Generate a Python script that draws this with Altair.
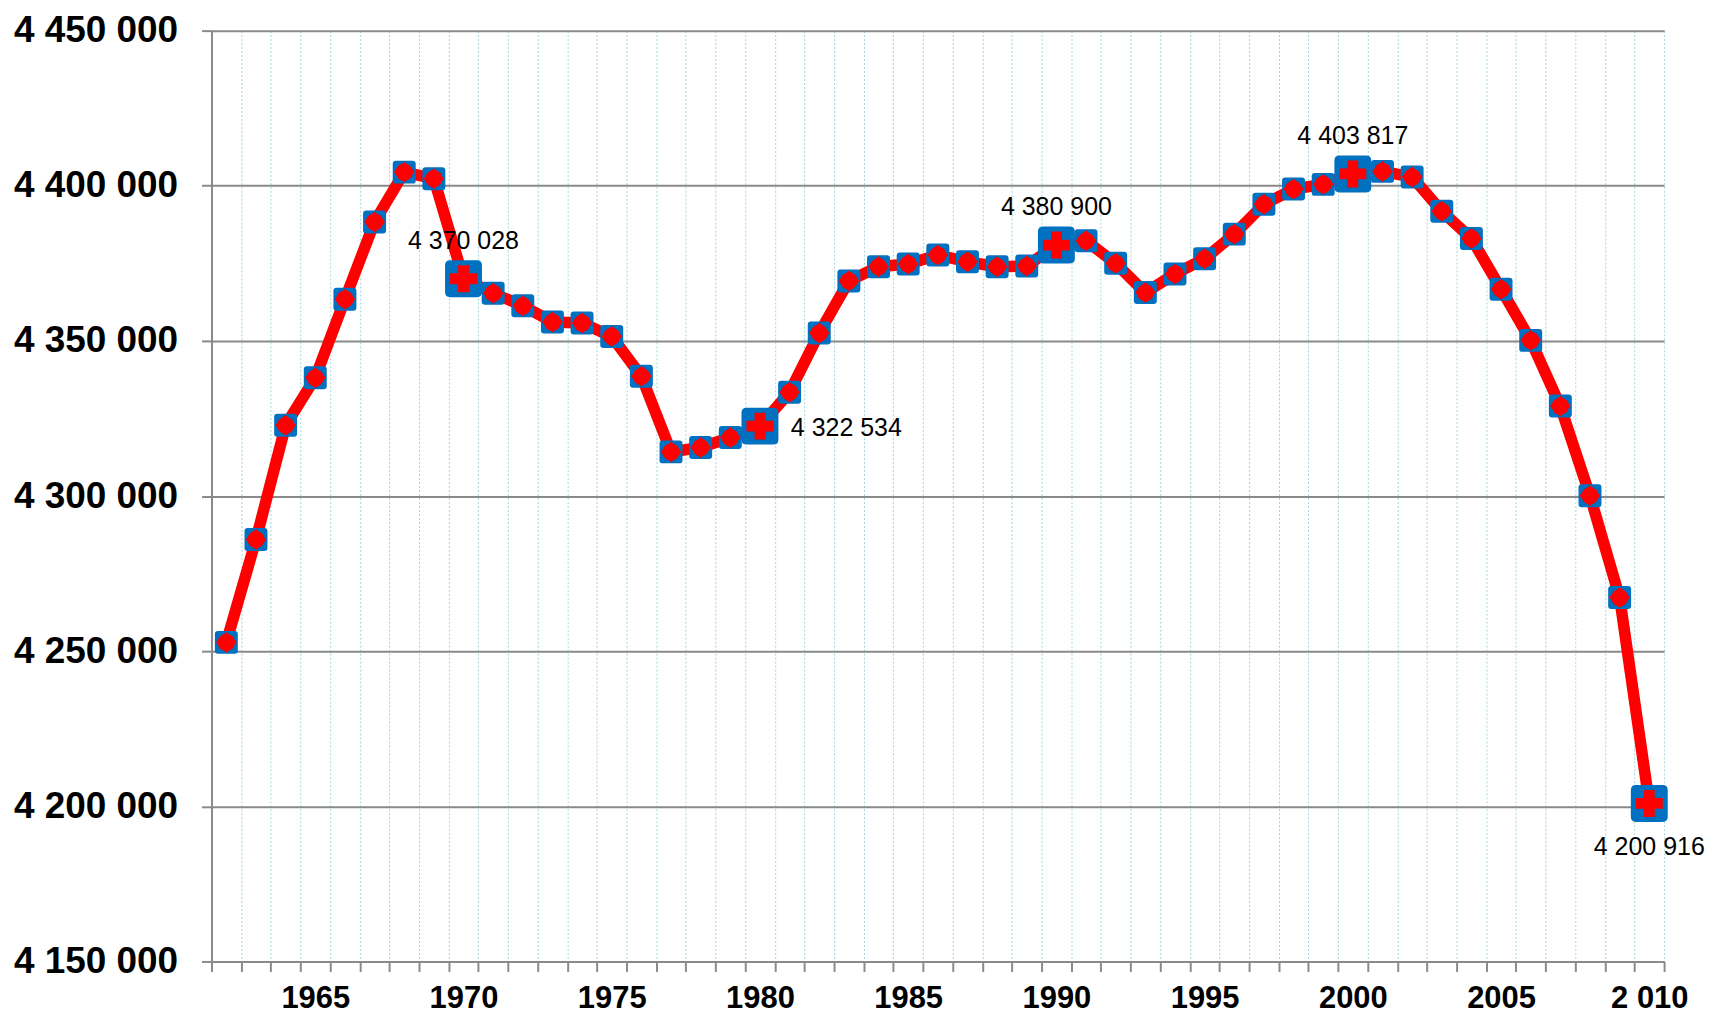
import altair as alt
import pandas as pd

# ---- data -------------------------------------------------------------
years = list(range(1962, 2011))
population = [
    4252840, 4285990, 4322800, 4338100, 4363450, 4388350, 4404400, 4402280, 4370028, 4365380,
    4361300, 4356070, 4355750, 4351450, 4338600, 4314230, 4315640, 4318850, 4322534, 4333480,
    4352540, 4369330, 4373900, 4374780, 4377670, 4375520, 4373900, 4374140, 4380900, 4382260,
    4375000, 4365570, 4371570, 4376480, 4384410, 4394040, 4398950, 4400450, 4403817, 4404630,
    4402800, 4391790, 4383030, 4366660, 4350170, 4328990, 4300110, 4267280, 4200916,
]
highlight_years = [1970, 1980, 1990, 2000, 2010]
y_ticks = [4150000, 4200000, 4250000, 4300000, 4350000, 4400000, 4450000]
x_label_years = [1965, 1970, 1975, 1980, 1985, 1990, 1995, 2000, 2005, 2010]

df = pd.DataFrame({"year": years, "pop": population})
df["label"] = [f"{v:,}".replace(",", " ") for v in population]
df["hl"] = df["year"].isin(highlight_years)

# ---- style ------------------------------------------------------------
BLUE = "#0070C0"
RED = "#FF0000"
GRID_GRAY = "#8a8a8a"
DOT_BLUE = "#a3d6df"
FONT = "Liberation Sans"
ROUNDED_SQ = ("M -0.72,-1 L 0.72,-1 Q 1,-1 1,-0.72 L 1,0.72 Q 1,1 0.72,1 "
              "L -0.72,1 Q -1,1 -1,0.72 L -1,-0.72 Q -1,-1 -0.72,-1 Z")

x_bounds = [y - 0.5 for y in years] + [years[-1] + 0.5]
x_values = sorted(x_bounds + x_label_years)

x_axis = alt.Axis(
    values=x_values,
    labelExpr="datum.value % 5 == 0 ? (datum.value == 2010 ? '2 010' : '' + datum.value) : ''",
    labelOverlap=False,
    labelFlush=False,
    grid=True,
    gridColor=DOT_BLUE,
    gridDash=[2, 2],
    gridWidth=1,
    gridOpacity={"condition": {"test": "datum.value % 1 != 0", "value": 1}, "value": 0},
    tickOpacity={"condition": {"test": "datum.value % 1 != 0", "value": 1}, "value": 0},
    tickColor=GRID_GRAY,
    tickWidth=2,
    tickSize=10,
    domainColor=GRID_GRAY,
    domainWidth=2,
    labelFont=FONT,
    labelFontSize=31,
    labelFontWeight="bold",
    labelColor="black",
    labelPadding=12,
    title=None,
)

y_axis = alt.Axis(
    values=y_ticks,
    labelExpr="replace(replace(format(datum.value, ','), ',', ' '), ',', ' ')",
    grid=True,
    gridColor=GRID_GRAY,
    gridWidth=2,
    tickColor=GRID_GRAY,
    tickWidth=2,
    tickSize=10,
    domainColor=GRID_GRAY,
    domainWidth=2,
    labelFont=FONT,
    labelFontSize=37,
    labelFontWeight="bold",
    labelColor="black",
    labelPadding=24,
    title=None,
)

base = alt.Chart(df).encode(
    x=alt.X("year:Q", scale=alt.Scale(domain=[1961.5, 2010.5], nice=False, zero=False), axis=x_axis),
    y=alt.Y("pop:Q", scale=alt.Scale(domain=[4150000, 4450000], nice=False, zero=False), axis=y_axis),
)

line = base.mark_line(color=RED, strokeWidth=11.5, strokeJoin="round", strokeCap="round")

small = base.transform_filter("!datum.hl")
small_sq = small.mark_point(shape=ROUNDED_SQ, filled=True, size=529, color=BLUE, opacity=1)
small_dia = small.mark_point(shape="diamond", filled=True, size=441, color=RED, opacity=1)
small_dot = small.mark_point(shape="circle", filled=True, size=300, color=RED, opacity=1)

big = base.transform_filter("datum.hl")
big_sq = big.mark_point(shape=ROUNDED_SQ, filled=True, size=1369, color=BLUE, opacity=1)
big_cross = big.mark_point(shape="cross", filled=True, size=729, color=RED, opacity=1)

txt_style = dict(font=FONT, fontSize=25, color="black", baseline="middle")
lab_above = base.transform_filter(
    alt.FieldOneOfPredicate(field="year", oneOf=[1970, 1990, 2000])
).mark_text(dy=-38, align="center", **txt_style).encode(text="label:N")
lab_right = base.transform_filter(
    alt.FieldOneOfPredicate(field="year", oneOf=[1980])
).mark_text(dx=31, dy=1.5, align="left", **txt_style).encode(text="label:N")
lab_below = base.transform_filter(
    alt.FieldOneOfPredicate(field="year", oneOf=[2010])
).mark_text(dy=43.5, align="center", **txt_style).encode(text="label:N")

chart = alt.layer(
    line, small_sq, small_dia, small_dot, big_sq, big_cross, lab_above, lab_right, lab_below
).properties(
    width=1456,
    height=933,
    autosize=alt.AutoSizeParams(type="none"),
    padding={"left": 204, "top": 21.5, "right": 45, "bottom": 53},
    background="white",
).configure_view(stroke=None)

chart.save("out.html", embed_options={"renderer": "svg", "actions": False})
